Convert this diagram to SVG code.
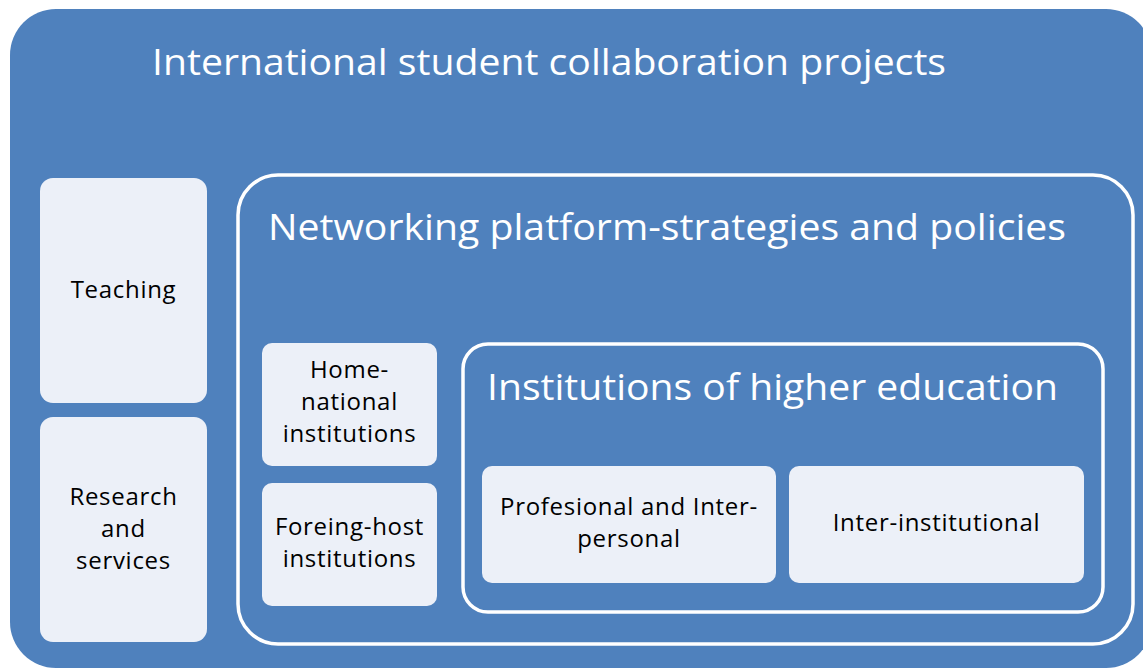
<svg xmlns="http://www.w3.org/2000/svg" width="1143" height="669" viewBox="0 0 1143 669">
<style>
.bg{fill:#4F81BD}
.lt{fill:#ECF0F8}
.frame{fill:none;stroke:#FFFFFF;stroke-width:3.5}
.big{font-family:"Open Sans","Liberation Sans",sans-serif;fill:#FFFFFF;font-size:36px}
.sm{font-family:"Open Sans","Liberation Sans",sans-serif;fill:#000000;font-size:24px;letter-spacing:0.7px;text-anchor:middle}
</style>
<rect width="1143" height="669" fill="#FFFFFF"/>
<g id="outer">
<rect class="bg" x="10" y="9" width="1142" height="659" rx="46"/>
<text class="big" x="152" y="75" textLength="794" lengthAdjust="spacingAndGlyphs">International student collaboration projects</text>
</g>
<g id="teaching">
<rect class="lt" x="40" y="178" width="167" height="225" rx="13"/>
<text class="sm" x="123.5" y="298">Teaching</text>
</g>
<g id="research">
<rect class="lt" x="40" y="417" width="167" height="225" rx="13"/>
<text class="sm" x="123.5" y="505">Research</text>
<text class="sm" x="123.5" y="537">and</text>
<text class="sm" x="123.5" y="569">services</text>
</g>
<g id="networking">
<rect class="frame" x="238" y="175" width="895" height="469" rx="40"/>
<text class="big" x="268" y="240" textLength="798" lengthAdjust="spacingAndGlyphs">Networking platform-strategies and policies</text>
</g>
<g id="home">
<rect class="lt" x="262" y="343" width="175" height="123" rx="10"/>
<text class="sm" x="349.5" y="378">Home-</text>
<text class="sm" x="349.5" y="410">national</text>
<text class="sm" x="349.5" y="442">institutions</text>
</g>
<g id="foreign">
<rect class="lt" x="262" y="483" width="175" height="123" rx="10"/>
<text class="sm" x="349.5" y="535">Foreing-host</text>
<text class="sm" x="349.5" y="567">institutions</text>
</g>
<g id="institutions">
<rect class="frame" x="463" y="344" width="640" height="268" rx="25"/>
<text class="big" x="487" y="400" textLength="571" lengthAdjust="spacingAndGlyphs">Institutions of higher education</text>
</g>
<g id="professional">
<rect class="lt" x="482" y="466" width="294" height="117" rx="10"/>
<text class="sm" x="629" y="515">Profesional and Inter-</text>
<text class="sm" x="629" y="547">personal</text>
</g>
<g id="interinstitutional">
<rect class="lt" x="789" y="466" width="295" height="117" rx="10"/>
<text class="sm" x="936.5" y="531">Inter-institutional</text>
</g>
<g id="connectors"></g>
</svg>
